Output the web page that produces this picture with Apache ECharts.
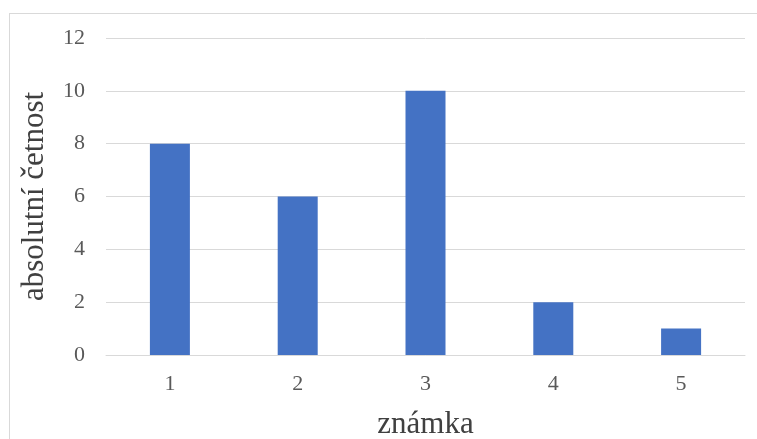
<!DOCTYPE html>
<html><head><meta charset="utf-8">
<script src="https://cdn.jsdelivr.net/npm/echarts@6/dist/echarts.min.js"></script>
<style>html,body{margin:0;padding:0;background:#fff;}#frame{position:absolute;left:9px;top:13px;width:760px;height:440px;border:1px solid #d9d9d9;box-sizing:border-box;}#c{position:absolute;left:0;top:0;width:757px;height:439px;}</style>
</head><body><div id="frame"></div><div id="c"></div>
<script>
const categories = ['1','2','3','4','5'];
const values = [8, 6, 10, 2, 1];
const xTitle = 'známka';
const yTitle = 'absolutní četnost';
const chart = echarts.init(document.getElementById('c'));
const font = '"Liberation Serif", "Times New Roman", serif';
chart.setOption({
  animation:false,
  grid:{left:106,right:12,top:38,bottom:84,outerBoundsMode:'none',containLabel:false},
  xAxis:{type:'category',data:categories,
    name:xTitle,nameLocation:'middle',nameGap:54,
    nameTextStyle:{fontFamily:font,fontSize:31,color:'#404040'},
    axisLine:{lineStyle:{color:'#d9d9d9',width:1}},axisTick:{show:false},
    axisLabel:{fontFamily:font,fontSize:22,color:'#595959',margin:18}},
  yAxis:{type:'value',min:0,max:12,interval:2,
    name:yTitle,nameLocation:'middle',nameGap:56,
    nameTextStyle:{fontFamily:font,fontSize:31,color:'#404040'},
    axisLine:{show:false},axisTick:{show:false},
    splitLine:{lineStyle:{color:'#d9d9d9',width:1}},
    axisLabel:{fontFamily:font,fontSize:22,color:'#595959',margin:21}},
  series:[{type:'bar',data:values,barWidth:40,itemStyle:{color:'#4472c4'}}]
});
</script></body></html>
